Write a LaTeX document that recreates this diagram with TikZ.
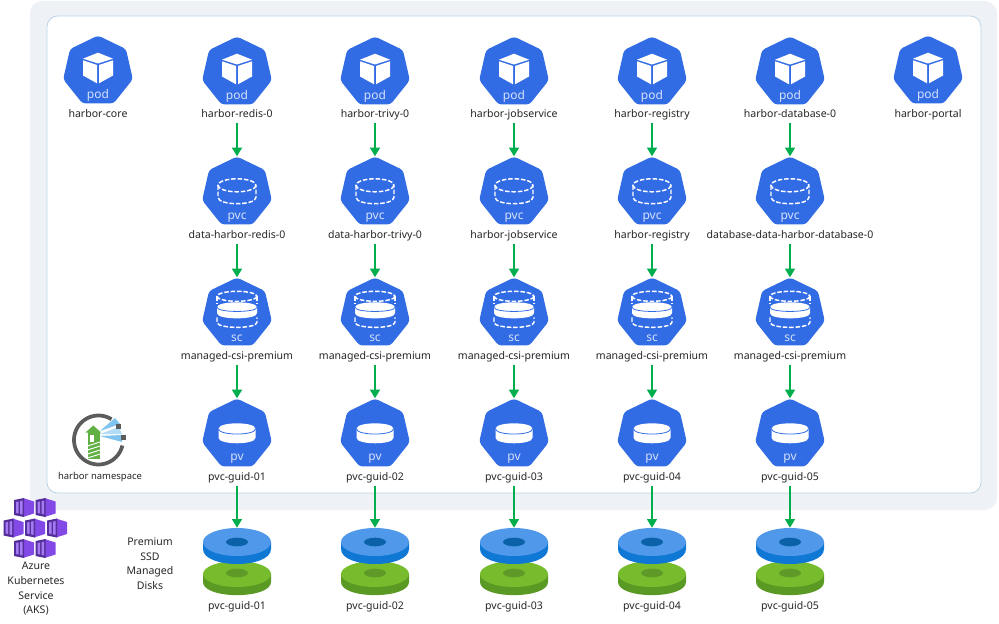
\documentclass[tikz,border=0pt]{standalone}
\usepackage{fontspec}
\setmainfont{Noto Sans}
\usetikzlibrary{shapes.geometric,arrows.meta}
\definecolor{kblue}{HTML}{326CE5}
\definecolor{ktext}{HTML}{D5E1FA}
\definecolor{panelbg}{HTML}{EEF2F7}
\definecolor{panelline}{HTML}{B9D3E6}
\definecolor{flow}{HTML}{00AE4D}
\definecolor{blueTop}{HTML}{4F98EA}
\definecolor{blueSide}{HTML}{0F78D4}
\definecolor{blueHole}{HTML}{0B62A8}
\definecolor{greenTop}{HTML}{76BC2D}
\definecolor{greenSide}{HTML}{5A9A24}
\definecolor{greenHole}{HTML}{5F9A28}
\definecolor{akDark}{HTML}{552F99}
\definecolor{akMid}{HTML}{8349E6}
\definecolor{akLite}{HTML}{A67AF4}
\definecolor{ringGrey}{HTML}{5C5C5C}
\definecolor{lighthouse}{HTML}{60B044}
\definecolor{beam}{HTML}{7FC4EE}
\tikzset{
  hept/.style={regular polygon,regular polygon sides=7,minimum size=53.6pt,inner sep=0pt,fill=kblue,rounded corners=2.5pt},
  lab/.style={inner sep=0pt,font=\fontsize{7.9pt}{11pt}\selectfont,text=black!85,text height=6pt,text depth=2pt},
  mlab/.style={inner sep=0pt,font=\fontsize{7.9pt}{11pt}\selectfont,text=black!85,align=center},
  nslab/.style={inner sep=0pt,font=\fontsize{7.1pt}{11pt}\selectfont,text=black!85,text height=6pt,text depth=2pt},
  kind/.style={inner sep=0pt,font=\fontsize{9pt}{11pt}\selectfont,text=ktext},
  flowline/.style={draw=flow,line width=1.1pt,-{Triangle[width=7.5pt,length=6.5pt]},shorten <=2pt},
  diskblue/.style={ellipse,inner sep=0pt,minimum width=51pt,minimum height=21pt,fill=blueTop},
  diskgreen/.style={ellipse,inner sep=0pt,minimum width=51pt,minimum height=19.5pt,fill=greenTop},
  dashw/.style={draw=white,line width=1.1pt,dash pattern=on 3.4pt off 1.4pt},
}
\newcommand\podglyph{%
  \fill[white] (0,-18.6) -- (15,-12.6) -- (0,-7.8) -- (-15,-12.6) -- cycle;
  \fill[white] (-15,-11) -- (-1,-6.3) -- (-1,12) -- (-15,4.2) -- cycle;
  \fill[white] (15,-11) -- (1,-6.3) -- (1,12) -- (15,4.2) -- cycle;
}
\newcommand\pvcglyph{%
  \draw[dashw] (0,-7) ellipse [x radius=19,y radius=6.5];
  \draw[dashw] (-19,-7) -- (-19,5) .. controls (-19,13.5) and (19,13.5) .. (19,5) -- (19,-7);
}
\newcommand\scglyph{%
  \draw[dashw] (0,-17) ellipse [x radius=20,y radius=5];
  \draw[dashw] (-20,-17) -- (-20,-9);
  \draw[dashw] (20,-17) -- (20,-9);
  \fill[white] (-20,-6) .. controls (-20,-12.7) and (20,-12.7) .. (20,-6) -- (20,0) .. controls (20,6.7) and (-20,6.7) .. (-20,0) -- cycle;
  \draw[kblue,line width=.6pt] (-20,-6) .. controls (-20,-0.5) and (20,-0.5) .. (20,-6);
  \draw[dashw] (-20,4) -- (-20,9) .. controls (-20,15.7) and (20,15.7) .. (20,9) -- (20,4);
}
\newcommand\pvglyph{%
  \fill[white] (-18.5,-5.5) .. controls (-18.5,-12.8) and (18.5,-12.8) .. (18.5,-5.5) -- (18.5,3.5) .. controls (18.5,10.8) and (-18.5,10.8) .. (-18.5,3.5) -- cycle;
  \draw[kblue,line width=.6pt] (-18.5,-5.5) .. controls (-18.5,1.5) and (18.5,1.5) .. (18.5,-5.5);
}
\newcommand\akcube[2]{%
  \begin{scope}[shift={(#1,#2)}]
    \fill[akMid] (-1,-9.5) -- (10,-6) -- (10,6) -- (-1,9.5) -- cycle;
    \fill[akDark] (-10,-7.5) -- (0,-9.5) -- (0,9.5) -- (-10,7.5) -- cycle;
    \fill[akLite] (-8,-5.5) -- (-5.3,-6) -- (-5.3,6) -- (-8,5.5) -- cycle;
    \fill[akLite] (-3.8,-6.4) -- (-1.5,-6.9) -- (-1.5,6.9) -- (-3.8,6.4) -- cycle;
  \end{scope}
}
\begin{document}
\begin{tikzpicture}[x=0.75pt,y=-0.75pt]
\useasboundingbox (0,0) rectangle (999,624);
\fill[panelbg,rounded corners=9pt] (30,1) rectangle (997,510);
\filldraw[fill=white,draw=panelline,line width=.6pt,rounded corners=8pt] (47,16) rectangle (981,493);

% standalone pods
\foreach \cx/\cn/\nm in {98/core/harbor-core,928/portal/harbor-portal}{
  \node[hept] (h\cn) at (\cx,71.3) {};
  \begin{scope}[shift={(\cx,71.3)}]\podglyph\end{scope}
  \node[kind] (k\cn) at (\cx,95) {pod};
  \node[lab] (l\cn) at (\cx,114.5) {\nm};
}

% columns
\foreach \i/\cx/\a/\b in {
  1/237/harbor-redis-0/data-harbor-redis-0,
  2/375/harbor-trivy-0/data-harbor-trivy-0,
  3/514/harbor-jobservice/harbor-jobservice,
  4/652/harbor-registry/harbor-registry,
  5/790/harbor-database-0/database-data-harbor-database-0}{
  % pod
  \node[hept] (pod\i) at (\cx,72.3) {};
  \begin{scope}[shift={(\cx,72.3)}]\podglyph\end{scope}
  \node[kind] (kpod\i) at (\cx,96.5) {pod};
  \node[lab] (lpod\i) at (\cx,115) {\a};
  % pvc
  \node[hept] (pvc\i) at (\cx,192.3) {};
  \begin{scope}[shift={(\cx,192.3)}]\pvcglyph\end{scope}
  \node[kind] (kpvc\i) at (\cx,217.5) {pvc};
  \node[lab] (lpvc\i) at (\cx,236) {\b};
  % sc
  \node[hept] (sc\i) at (\cx,313.3) {};
  \begin{scope}[shift={(\cx,313.3)}]\scglyph\end{scope}
  \node[kind] (ksc\i) at (\cx,338.5) {sc};
  \node[lab] (lsc\i) at (\cx,357) {managed-csi-premium};
  % pv
  \node[hept] (pv\i) at (\cx,434.3) {};
  \begin{scope}[shift={(\cx,434.3)}]\pvglyph\end{scope}
  \node[kind] (kpv\i) at (\cx,459) {pv};
  \node[lab] (lpv\i) at (\cx,478) {pvc-guid-0\i};
  % disks
  \fill[greenSide] (\cx-34,574) -- (\cx-34,582) .. controls (\cx-34,599.5) and (\cx+34,599.5) .. (\cx+34,582) -- (\cx+34,574) -- cycle;
  \node[diskgreen] (dg\i) at (\cx,574) {};
  \node[ellipse,inner sep=0pt,minimum width=16.5pt,minimum height=6.5pt,fill=greenHole] (hg\i) at (\cx,573) {};
  \fill[blueSide] (\cx-34,542) -- (\cx-34,549) .. controls (\cx-34,569) and (\cx+34,569) .. (\cx+34,549) -- (\cx+34,542) -- cycle;
  \node[diskblue] (db\i) at (\cx,542) {};
  \node[ellipse,inner sep=0pt,minimum width=16.5pt,minimum height=6.5pt,fill=blueHole] (hb\i) at (\cx,542) {};
  \node[lab] (ld\i) at (\cx,606.5) {pvc-guid-0\i};
  % connectors
  \draw[flowline] (lpod\i) -- (pvc\i.north);
  \draw[flowline] (lpvc\i) -- (sc\i.north);
  \draw[flowline] (lsc\i) -- (pv\i.north);
  \draw[flowline] (lpv\i) -- (db\i.north);
}

% harbor namespace icon
\draw[ringGrey,line width=2.8pt] plot[smooth,domain=58:347,samples=50] ({98.5+24.5*cos(\x)},{440-24.5*sin(\x)});
\fill[beam] (100,431) -- (115,418) -- (120,424) -- cycle;
\fill[beam!60!white] (100,434) -- (119,427) -- (122,434) -- cycle;
\fill[beam] (100,436) -- (122,435) -- (122,442) -- cycle;
\fill[ringGrey] (116,424) rectangle (120.5,428.5);
\fill[ringGrey] (120.5,435) rectangle (125.5,439.5);
\fill[lighthouse] (93.3,425.5) -- (101,432.5) -- (85.5,432.5) -- cycle;
\fill[lighthouse] (87.5,432) rectangle (100,458.5);
\fill[white] (90,435) rectangle (93.5,441.5);
\foreach \yy in {444,448,452,456}{
  \draw[white,line width=.7pt] (87.5,\yy+2) -- (100,\yy-2);
}
\node[nslab] (lns) at (100,477) {harbor namespace};

% AKS icon
\akcube{24}{507.5}\akcube{45.5}{507.5}
\akcube{13.5}{528}\akcube{35}{528}\akcube{57}{528}
\akcube{24}{548.5}\akcube{45.5}{548.5}
\node[mlab] (laks) at (36,589) {Azure\\Kubernetes\\Service\\(AKS)};
\node[mlab] (lssd) at (150,563.5) {Premium\\SSD\\Managed\\Disks};
\end{tikzpicture}
\end{document}
